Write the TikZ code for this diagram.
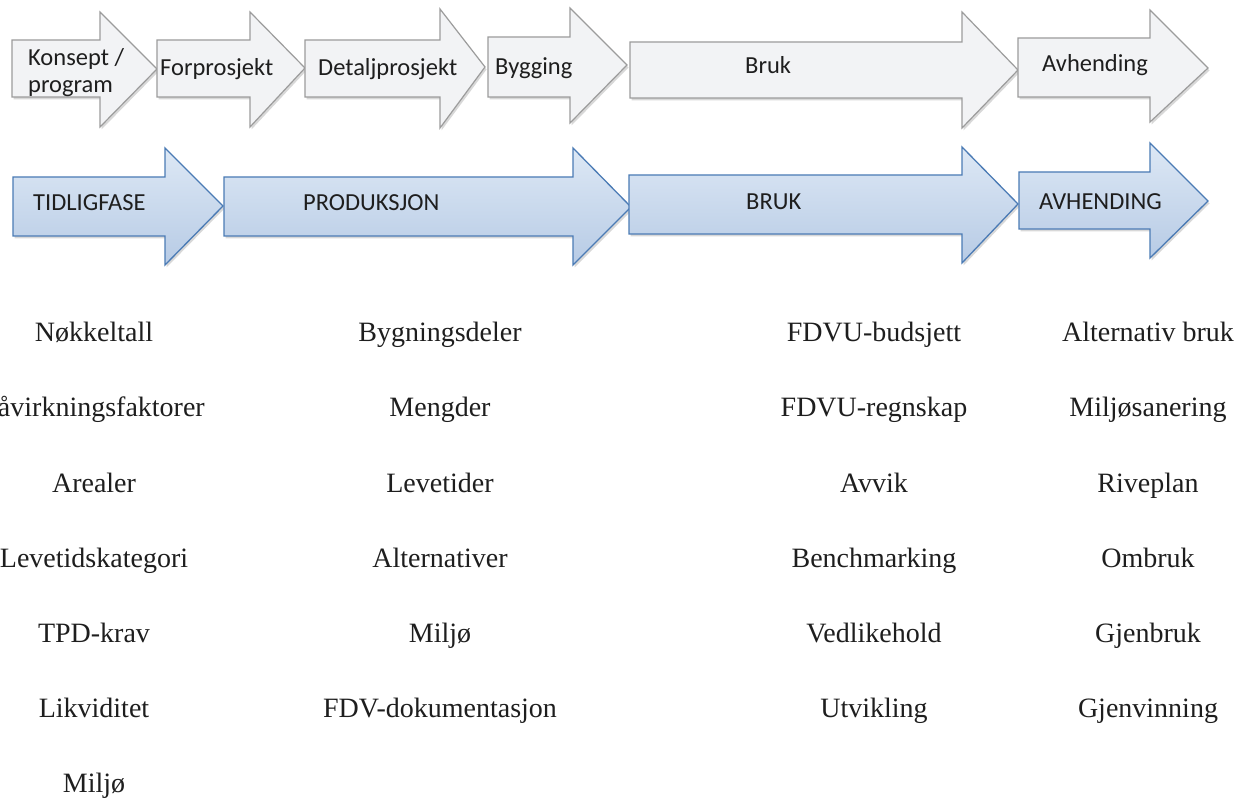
\documentclass[tikz,border=0pt]{standalone}
\usepackage{fontspec}
\setmainfont{Liberation Serif}
\newfontfamily\calib{Carlito}
\usetikzlibrary{shadows}
\definecolor{grayfill}{HTML}{F2F3F5}
\definecolor{graydraw}{HTML}{9C9C9C}
\definecolor{bluetop}{HTML}{DDE8F5}
\definecolor{bluebot}{HTML}{B7CBE5}
\definecolor{bluedraw}{HTML}{4B7BB5}
\definecolor{txt}{HTML}{1E1E1E}
\newcommand\phasearrow[9]{\path[#1] (#2,#3) -- (#5,#3) -- (#5,#6) -- (#8,#9) -- (#5,#7) -- (#5,#4) -- (#2,#4) -- cycle;}
\begin{document}
\begin{tikzpicture}[x=1pt,y=-1pt,
  grayarrow/.style={fill=grayfill,draw=graydraw,line width=1.2pt,line join=miter,
    drop shadow={shadow xshift=1.5pt,shadow yshift=-2.5pt,opacity=0.3}},
  bluearrow/.style={top color=bluetop,bottom color=bluebot,draw=bluedraw,line width=1.3pt,line join=miter,
    drop shadow={shadow xshift=1.5pt,shadow yshift=-2.5pt,opacity=0.3}},
  phase/.style={font=\calib\fontsize{24.5}{28}\selectfont,text=txt,inner sep=0pt,anchor=base west},
  item/.style={font=\fontsize{28}{32}\selectfont,text=txt,inner sep=0pt,anchor=base}]
\useasboundingbox[fill=white] (0,0) rectangle (1242,799);

% top row (grey)
\phasearrow{grayarrow}{12}{40}{97}{100}{12}{127}{157}{69}
\phasearrow{grayarrow}{157}{40}{97}{250}{12}{127}{305}{68}
\phasearrow{grayarrow}{305}{40}{97}{440}{9}{128}{485}{67}
\phasearrow{grayarrow}{488}{37}{97}{570}{8}{123}{627}{65}
\phasearrow{grayarrow}{630}{42}{98}{962}{12}{128}{1018}{70}
\phasearrow{grayarrow}{1018}{38}{97}{1150}{10}{122}{1208}{68}

\node[phase] (konsept) at (28,66) {Konsept /};
\node[phase] (program) at (28,93) {program};
\node[phase] (forpro) at (160,76) {Forprosjekt};
\node[phase] (detalj) at (318,76) {Detaljprosjekt};
\node[phase] (bygging) at (495,75) {Bygging};
\node[phase] (bruk) at (745,74) {Bruk};
\node[phase] (avhend) at (1042,72) {Avhending};

% bottom row (blue)
\phasearrow{bluearrow}{13}{177}{236}{165}{148}{265}{223}{206}
\phasearrow{bluearrow}{224}{177}{236}{573}{148}{265}{631}{207}
\phasearrow{bluearrow}{629}{175}{234}{962}{147}{263}{1018}{204}
\phasearrow{bluearrow}{1019}{172}{229}{1150}{143}{258}{1208}{201}

\node[phase] (tidlig) at (33,211) {TIDLIGFASE};
\node[phase] (produk) at (303,211) {PRODUKSJON};
\node[phase] (brukb) at (746,210) {BRUK};
\node[phase] (avhendb) at (1039,210) {AVHENDING};

% column 1
\node[item] (c1a) at (94,342) {Nøkkeltall};
\node[item,anchor=base east] (c1b) at (205,417) {åvirkningsfaktorer};
\node[item] (c1c) at (94,492) {Arealer};
\node[item] (c1d) at (94,567) {Levetidskategori};
\node[item] (c1e) at (94,642) {TPD-krav};
\node[item] (c1f) at (94,717) {Likviditet};
\node[item] (c1g) at (94,792) {Miljø};
% column 2
\node[item] (c2a) at (440,342) {Bygningsdeler};
\node[item] (c2b) at (440,417) {Mengder};
\node[item] (c2c) at (440,492) {Levetider};
\node[item] (c2d) at (440,567) {Alternativer};
\node[item] (c2e) at (440,642) {Miljø};
\node[item] (c2f) at (440,717) {FDV-dokumentasjon};
% column 3
\node[item] (c3a) at (874,342) {FDVU-budsjett};
\node[item] (c3b) at (874,417) {FDVU-regnskap};
\node[item] (c3c) at (874,492) {Avvik};
\node[item] (c3d) at (874,567) {Benchmarking};
\node[item] (c3e) at (874,642) {Vedlikehold};
\node[item] (c3f) at (874,717) {Utvikling};
% column 4
\node[item] (c4a) at (1148,342) {Alternativ bruk};
\node[item] (c4b) at (1148,417) {Miljøsanering};
\node[item] (c4c) at (1148,492) {Riveplan};
\node[item] (c4d) at (1148,567) {Ombruk};
\node[item] (c4e) at (1148,642) {Gjenbruk};
\node[item] (c4f) at (1148,717) {Gjenvinning};
\end{tikzpicture}
\end{document}
